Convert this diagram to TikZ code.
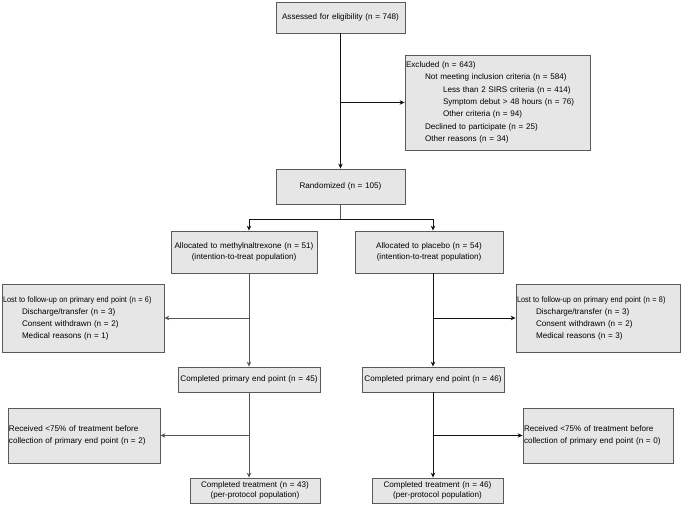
\documentclass[tikz,border=0pt]{standalone}
\usepackage{fontspec}
\usepackage{graphicx}
\setmainfont{Liberation Sans}
\usetikzlibrary{arrows.meta}
\definecolor{boxfill}{HTML}{E6E6E6}
\definecolor{boxdraw}{HTML}{5A5A5A}
\definecolor{lineL}{HTML}{555555}
\definecolor{lineR}{HTML}{111111}
\tikzset{
  box/.style={draw=boxdraw, fill=boxfill, line width=0.8pt, inner xsep=1pt, inner ysep=0pt,
    font=\fontsize{8.1}{12}\selectfont},
  conn/.style={line width=0.8pt, -{Stealth[length=5pt,width=4.5pt]}},
  plain/.style={line width=0.8pt},
}
\begin{document}
\begin{tikzpicture}[x=1pt,y=-1pt]
\useasboundingbox (0,0) rectangle (681,505);
% boxes
\node[box, minimum width=129pt, minimum height=31pt, text width=127pt, align=center] (assess) at (340.5,17.5) {Assessed for eligibility (n = 748)};
\node[box, minimum width=185pt, minimum height=95pt, text width=183pt, align=left, font=\fontsize{8.1}{12.4}\selectfont] (excl) at (497.5,102.5) {Excluded (n = 643)\\
\hspace*{19pt}Not meeting inclusion criteria (n = 584)\\
\hspace*{37pt}Less than 2 SIRS criteria (n = 414)\\
\hspace*{37pt}Symptom debut > 48 hours (n = 76)\\
\hspace*{37pt}Other criteria (n = 94)\\
\hspace*{19pt}Declined to participate (n = 25)\\
\hspace*{19pt}Other reasons (n = 34)};
\node[box, minimum width=129pt, minimum height=35pt, text width=127pt, align=center] (rand) at (340.5,186.5) {Randomized (n = 105)};
\node[box, minimum width=146pt, minimum height=42pt, text width=144pt, align=center, font=\fontsize{8.1}{10.5}\selectfont] (allocL) at (244,252) {Allocated to methylnaltrexone (n = 51)\\(intention-to-treat population)};
\node[box, minimum width=148pt, minimum height=42pt, text width=146pt, align=center, font=\fontsize{8.1}{10.5}\selectfont] (allocR) at (429,252) {Allocated to placebo (n = 54)\\(intention-to-treat population)};
\node[box, minimum width=162pt, minimum height=68pt, text width=160pt, align=left] (lostL) at (83,318) {\scalebox{0.9}[1]{Lost to follow-up on primary end point (n = 6)}\\
\hspace*{19pt}Discharge/transfer (n = 3)\\
\hspace*{19pt}Consent withdrawn (n = 2)\\
\hspace*{19pt}Medical reasons (n = 1)};
\node[box, minimum width=164pt, minimum height=68pt, text width=162pt, align=left] (lostR) at (598,318) {\scalebox{0.9}[1]{Lost to follow-up on primary end point (n = 8)}\\
\hspace*{19pt}Discharge/transfer (n = 3)\\
\hspace*{19pt}Consent withdrawn (n = 2)\\
\hspace*{19pt}Medical reasons (n = 3)};
\node[box, minimum width=142pt, minimum height=25pt, text width=140pt, align=center] (cpL) at (249,379.5) {Completed primary end point (n = 45)};
\node[box, minimum width=142pt, minimum height=25pt, text width=140pt, align=center] (cpR) at (433,379.5) {Completed primary end point (n = 46)};
\node[box, minimum width=152pt, minimum height=55pt, text width=150pt, align=left] (recL) at (84,435.5) {Received <75\% of treatment before\\collection of primary end point (n = 2)};
\node[box, minimum width=150pt, minimum height=55pt, text width=148pt, align=left] (recR) at (598,435.5) {Received <75\% of treatment before\\collection of primary end point (n = 0)};
\node[box, minimum width=130pt, minimum height=25pt, text width=128pt, align=center, font=\fontsize{8.1}{10.5}\selectfont] (ctL) at (255,490.5) {Completed treatment (n = 43)\\(per-protocol population)};
\node[box, minimum width=131pt, minimum height=25pt, text width=129pt, align=center, font=\fontsize{8.1}{10.5}\selectfont] (ctR) at (437.5,490.5) {Completed treatment (n = 46)\\(per-protocol population)};
% connectors
\coordinate (split) at (340.5,219);
\draw[conn, draw=lineR] (assess.south) -- (rand.north);
\draw[conn, draw=lineR] (assess.south |- excl.west) -- (excl.west);
\draw[plain, draw=lineL] (rand.south) -- (split);
\draw[conn, draw=lineR] (split) -| ([xshift=5pt]allocL.north);
\draw[conn, draw=lineR] (split) -| ([xshift=4pt]allocR.north);
% left column
\draw[conn, draw=lineL] ([xshift=5pt]allocL.south) -- (cpL.north);
\draw[conn, draw=lineL] (cpL.north |- lostL.east) -- (lostL.east);
\draw[conn, draw=lineL] (cpL.south) -- ([xshift=-6pt]ctL.north);
\draw[conn, draw=lineL] (cpL.south |- recL.east) -- (recL.east);
% right column
\draw[conn, draw=lineR] ([xshift=4pt]allocR.south) -- (cpR.north);
\draw[conn, draw=lineR] (cpR.north |- lostR.west) -- (lostR.west);
\draw[conn, draw=lineR] (cpR.south) -- ([xshift=-4.5pt]ctR.north);
\draw[conn, draw=lineR] (cpR.south |- recR.west) -- (recR.west);
\end{tikzpicture}
\end{document}
